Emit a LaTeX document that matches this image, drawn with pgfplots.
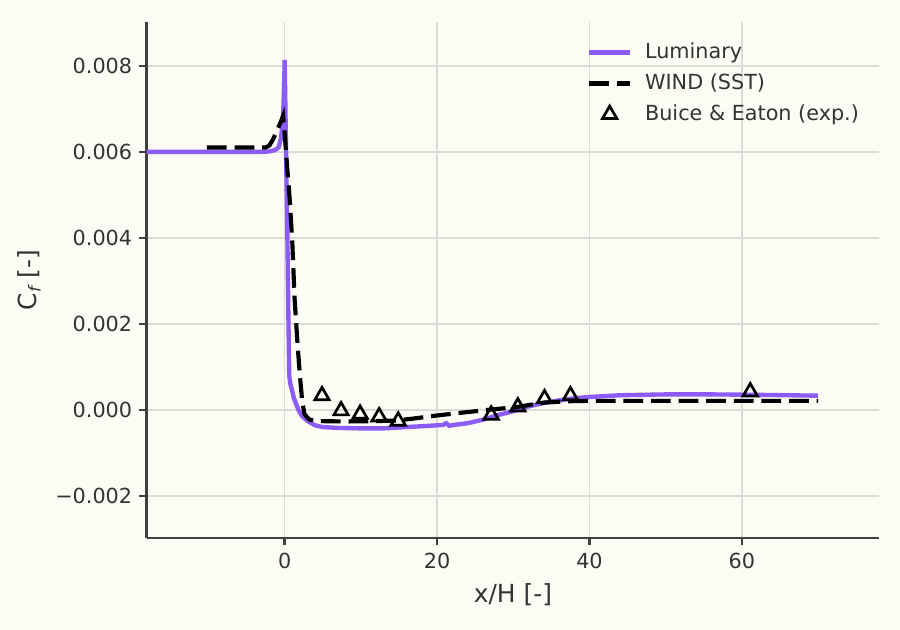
\documentclass[border=0pt]{standalone}
\usepackage{pgfplots}
\pgfplotsset{compat=1.18}
\usepackage{fontspec}
\setmainfont{DejaVu Sans}
\definecolor{bgc}{HTML}{FCFBF4}
\definecolor{lum}{HTML}{8B5CF6}
\definecolor{gridc}{HTML}{DCDCD6}
\definecolor{spine}{HTML}{404040}
\definecolor{txt}{HTML}{333333}

\pgfplotsset{
  linelegend/.style={legend image code/.code={\draw[##1] (0pt,0pt) -- (20pt,0pt);}},
  marklegend/.style={legend image code/.code={\draw[##1] plot coordinates {(10pt,0pt)};}},
}

\pgfplotstableread{
x y
-20 0.0060
-3 0.0060
-2 0.00601
-1.3 0.00604
-0.8 0.0061
-0.5 0.0063
-0.3 0.0066
-0.15 0.0071
-0.05 0.0077
0 0.00814
0.1 0.0070
0.2 0.0058
0.35 0.0041
0.5 0.0020
0.6 0.0008
0.75 0.0006
0.95 0.00047
1.2 0.00028
1.8 0.0
2.3 -0.00015
3.1 -0.00027
4.0 -0.00036
5.0 -0.0004
7 -0.00042
10 -0.00043
13 -0.00043
16 -0.0004
19 -0.00037
20.8 -0.00035
21.2 -0.00031
21.6 -0.00037
22.2 -0.00035
24 -0.00031
26 -0.00023
28 -0.00012
30 -0.00003
32 0.00008
34 0.00016
36 0.00022
38 0.00027
40 0.0003
44 0.00034
50 0.00036
56 0.00036
62 0.00035
70 0.00033
}\lumtab

\pgfplotstableread{
x y
-10.2 0.0061
-2.5 0.0061
-2 0.00615
-1.5 0.0063
-1 0.0065
-0.5 0.0067
-0.2 0.00684
0.1 0.0062
0.3 0.0057
0.66 0.0049
1.0 0.0039
1.3 0.0026
1.7 0.0015
2.0 0.0008
2.3 0.0002
2.6 -0.0001
3.2 -0.00022
4 -0.00026
8 -0.00027
12 -0.00026
14.5 -0.00025
17 -0.0002
20 -0.00013
23 -0.00007
26.7 0.0
30.6 0.00007
34 0.00017
37 0.0002
40 0.00021
50 0.00021
70 0.00021
}\windtab

\pgfplotstableread{
x y
4.9 0.00033
7.4 -0.00002
9.9 -0.0001
12.4 -0.00016
14.9 -0.00026
27.1 -0.00012
30.6 0.00007
34.1 0.00026
37.5 0.00033
61.1 0.00042
}\exptab

\begin{document}
\begin{tikzpicture}
\path[use as bounding box, fill=bgc] (-70.7pt,-44.3pt) rectangle (362.9pt,259.2pt);
\begin{axis}[
  at={(0,0)}, anchor=south west,
  scale only axis, width=352.8pt, height=248.6pt,
  xmin=-18.1, xmax=78, ymin=-0.00298, ymax=0.00902,
  axis x line*=bottom, axis y line*=left,
  axis line style={-, draw=spine, line width=1.25pt},
  tick align=outside, major tick length=3.5pt,
  tick style={draw=spine, line width=1.25pt},
  xtick={0,20,40,60}, xticklabels={0,20,40,60},
  ytick={-0.002,0,0.002,0.004,0.006,0.008},
  yticklabels={−0.002,0.000,0.002,0.004,0.006,0.008},
  scaled y ticks=false,
  grid=major, major grid style={draw=gridc, line width=0.7pt},
  tick label style={font=\fontsize{10}{12}\selectfont, text=txt},
  label style={font=\fontsize{12}{14}\selectfont, text=txt},
  xlabel={x/H [-]}, ylabel={C\textsubscript{\itshape f} [-]},
  xlabel style={at={(axis description cs:0.5,-0.1105)}, anchor=center},
  ylabel style={at={(axis description cs:-0.1607,0.5)}, anchor=center},
  legend style={draw=none, fill=none, at={(rel axis cs:1,1)}, anchor=north east,
    xshift=-4.5pt, yshift=-6pt, font=\fontsize{10}{12}\selectfont, text=txt,
    row sep=1.8pt, /tikz/every odd column/.append style={column sep=4pt}},
  legend cell align=left,
]
\addplot[lum, line width=2.1pt, linelegend] table[x=x,y=y] {\lumtab};
\addlegendentry{Luminary}
\addplot[black, line width=2pt, dash pattern=on 9.5pt off 3.8pt, linelegend] table[x=x,y=y] {\windtab};
\addlegendentry{WIND (SST)}
\addplot[only marks, black, mark=triangle, mark size=4pt, mark options={line width=1.3pt, solid}, marklegend] table[x=x,y=y] {\exptab};
\addlegendentry{Buice \& Eaton (exp.)}
\end{axis}
\end{tikzpicture}
\end{document}
